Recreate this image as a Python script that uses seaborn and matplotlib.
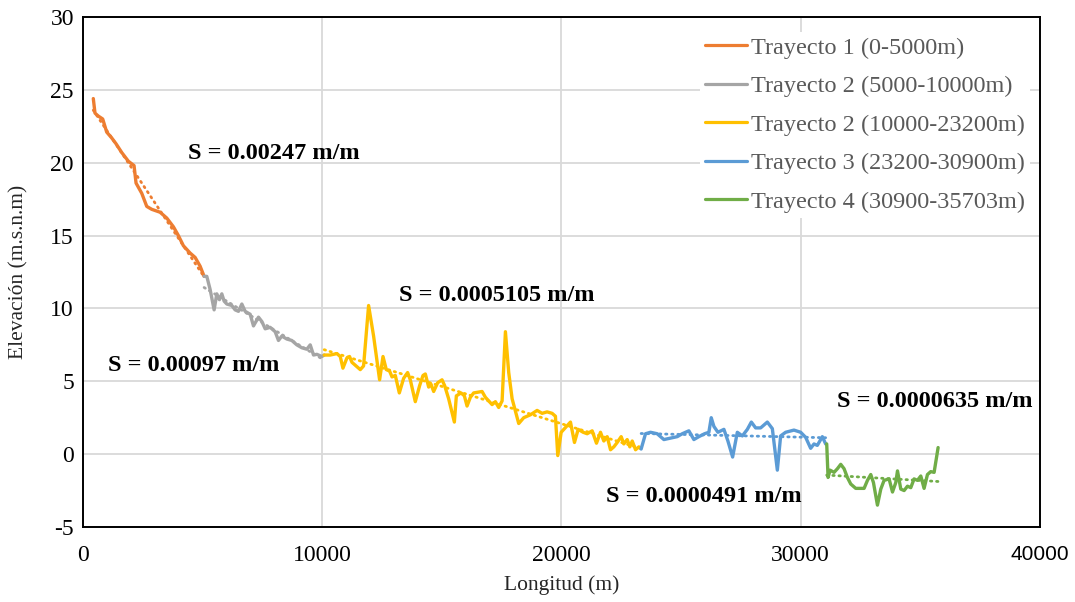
import numpy as np
import pandas as pd
import matplotlib
matplotlib.use("Agg")
import matplotlib.pyplot as plt
import seaborn as sns

# ---- data ----
x_t1 = [431, 502, 640, 824, 991, 1200, 1381, 1619, 1897, 2134, 2218, 2456, 2665, 2874,
        3222, 3502, 3780, 3987, 4197, 4477, 4686, 4895, 5063]
y_t1 = [24.4, 23.4, 23.2, 23.0, 22.1, 21.7, 21.3, 20.7, 20.1, 19.8, 18.6, 17.9, 17.0, 16.8,
        16.6, 16.2, 15.6, 15.0, 14.3, 13.8, 13.5, 12.9, 12.2]

x_t2 = [5063, 5175, 5314, 5481, 5593, 5703, 5803, 5899, 6012, 6221, 6359, 6499, 6640, 6778,
        6987, 7126, 7335, 7477, 7615, 7824, 8033, 8171, 8310, 8519, 8728, 8937, 9146, 9356,
        9498, 9636, 9775, 9985, 10080]
y_t2 = [12.2, 12.2, 11.3, 9.9, 11.0, 10.6, 11.0, 10.5, 10.3, 10.2, 9.9, 9.8, 10.3, 9.8,
        9.6, 8.8, 9.4, 9.1, 8.6, 8.7, 8.4, 7.8, 8.1, 7.9, 7.8, 7.5, 7.3, 7.2,
        7.5, 6.8, 6.85, 6.7, 6.8]

x_t2b = [10083, 10334, 10613, 10753, 10865, 11032, 11141, 11243, 11590, 11728, 11938, 12147,
         12398, 12540, 12678, 12816, 12917, 13055, 13222, 13402, 13569, 13681, 13890, 14071,
         14212, 14310, 14449, 14547, 14657, 14825, 15008, 15117, 15284, 15523, 15606, 15803,
         15941, 16053, 16192, 16330, 16681, 16820, 17100, 17238, 17376, 17518, 17657, 17795,
         17937, 18213, 18422, 18702, 18982, 19191, 19400, 19609, 19748, 19845, 19987, 20209,
         20376, 20543, 20698, 20907, 21074, 21283, 21463, 21631, 21770, 21911, 22050, 22189,
         22329, 22496, 22607, 22747, 22858, 22957, 23096, 23235, 23305]
y_t2b = [6.8, 6.8, 6.9, 6.7, 5.9, 6.6, 6.7, 6.3, 5.8, 6.05, 10.2, 8.1,
         5.1, 6.7, 5.8, 5.7, 5.3, 5.4, 4.2, 5.2, 5.6, 5.1, 3.6, 4.7,
         5.4, 5.5, 4.6, 4.8, 4.3, 4.9, 5.1, 4.7, 3.8, 2.2, 4.0, 4.2,
         4.0, 3.3, 3.9, 4.2, 4.3, 3.9, 3.4, 3.6, 3.2, 3.65, 8.4, 5.6,
         3.8, 2.1, 2.5, 2.7, 3.0, 2.8, 2.9, 2.8, 2.6, -0.1, 1.5, 1.9,
         2.2, 0.8, 1.7, 1.5, 1.4, 1.6, 0.75, 1.5, 0.9, 1.2, 0.3, 0.5,
         0.8, 1.2, 0.7, 1.0, 0.5, 0.9, 0.3, 0.5, 0.4]

x_t3 = [23330, 23513, 23722, 24001, 24280, 24560, 24840, 25049, 25325, 25534, 25743, 25981,
        26161, 26260, 26372, 26539, 26790, 26957, 27154, 27350, 27560, 27769, 27936, 28116,
        28325, 28604, 28814, 29023, 29161, 29370, 29718, 29998, 30207, 30416, 30556, 30695,
        30904, 31042]
y_t3 = [0.35, 1.4, 1.5, 1.4, 1.0, 1.1, 1.2, 1.4, 1.6, 1.0, 1.2, 1.4,
        1.5, 2.5, 1.9, 1.5, 1.7, 0.9, -0.2, 1.5, 1.25, 1.7, 2.2, 1.8,
        1.8, 2.2, 1.75, -1.1, 1.25, 1.5, 1.65, 1.5, 1.15, 0.4, 0.7, 0.6,
        1.2, 0.7]

x_t4 = [31087, 31143, 31227, 31394, 31534, 31673, 31812, 31951, 32091, 32300, 32649, 32790,
        32928, 33040, 33207, 33347, 33485, 33694, 33836, 33974, 34045, 34183, 34322, 34462,
        34601, 34739, 34880, 35019, 35157, 35298, 35436, 35576, 35743]
y_t4 = [0.7, -1.6, -1.1, -1.25, -1.0, -0.7, -1.0, -1.6, -2.05, -2.35, -2.35, -1.8,
        -1.4, -1.95, -3.5, -2.4, -1.8, -1.7, -2.6, -1.95, -1.15, -2.4, -2.5, -2.2,
        -2.3, -1.7, -1.8, -1.5, -2.35, -1.4, -1.2, -1.25, 0.45]

labels = ['Trayecto 1 (0-5000m)', 'Trayecto 2 (5000-10000m)', 'Trayecto 2 (10000-23200m)',
          'Trayecto 3 (23200-30900m)', 'Trayecto 4 (30900-35703m)']
colors = ['#ED7D31', '#A5A5A5', '#FFC000', '#5B9BD5', '#70AD47']

slope_texts = ['S = 0.00247 m/m', 'S = 0.00097 m/m', 'S = 0.0005105 m/m',
               'S = 0.0000491 m/m', 'S = 0.0000635 m/m']
slope_x = [4400, 1050, 13220, 21880, 31500]
slope_y = [20.6, 6.1, 10.9, -2.9, 3.6]

# ---- build a long table ----
series = [(x_t1, y_t1), (x_t2, y_t2), (x_t2b, y_t2b), (x_t3, y_t3), (x_t4, y_t4)]
frames = []
for lab, (xs, ys) in zip(labels, series):
    frames.append(pd.DataFrame({'Longitud': xs, 'Elevacion': ys, 'Trayecto': lab}))
df = pd.concat(frames, ignore_index=True)
pal = dict(zip(labels, colors))

sns.set_theme(style="whitegrid")
plt.rcParams['font.family'] = ['Liberation Serif', 'DejaVu Serif']
plt.rcParams['axes.unicode_minus'] = False

fig = plt.figure(figsize=(10.75, 6.02), dpi=100)
ax = fig.add_axes([0.0772, 0.1246, 0.8902, 0.8472])

# trend lines (dotted), one per stretch
for lab, (xs, ys) in zip(labels, series):
    sns.regplot(x=np.array(xs), y=np.array(ys), ax=ax, scatter=False, ci=None,
                color=pal[lab], line_kws={'linestyle': (0, (0.5, 1.7)), 'linewidth': 2.0,
                                          'dash_capstyle': 'round'})

sns.lineplot(data=df, x='Longitud', y='Elevacion', hue='Trayecto', palette=pal,
             estimator=None, sort=False, linewidth=2.4, ax=ax, legend=False)

# slope labels
for t, tx, ty in zip(slope_texts, slope_x, slope_y):
    ax.text(tx, ty, t, fontsize=17.5, fontweight='bold', va='center', ha='left', color='black')

ax.set_xlim(0, 40000)
ax.set_ylim(-5, 30)
ax.set_xticks(range(0, 40001, 10000))
ax.set_yticks(range(-5, 31, 5))
ax.grid(True, color='#d9d9d9', linewidth=1.3)
ax.tick_params(length=0, labelsize=17, colors='black')
ax.tick_params(axis='x', pad=13)
ax.tick_params(axis='y', pad=6.5)
for sp in ax.spines.values():
    sp.set_color('black')
    sp.set_linewidth(1.4)
    sp.set_visible(True)

# the last x tick in the source chart is in a sans font
xt = ax.get_xticklabels()
xt[-1].set_fontfamily(['Liberation Sans', 'DejaVu Sans'])
xt[-1].set_fontsize(15)

ax.set_xlabel('Longitud (m)', fontsize=15.5, color='#262626')
ax.set_ylabel('Elevación (m.s.n.m)', fontsize=15.5, color='#262626')
ax.xaxis.set_label_coords(0.5, -0.095)
ax.yaxis.set_label_coords(-0.057, 0.5)

# legend
handles = [plt.Line2D([], [], color=c, linewidth=2.3) for c in colors]
leg = ax.legend(handles, labels, loc='upper right', bbox_to_anchor=(1.002, 0.995),
                fontsize=17.5, frameon=True, facecolor='white', edgecolor='none',
                framealpha=1, handlelength=1.75, handletextpad=0.15,
                labelspacing=0.68, borderpad=0.2, labelcolor='#595959')

fig.savefig('out.png', dpi=100)
